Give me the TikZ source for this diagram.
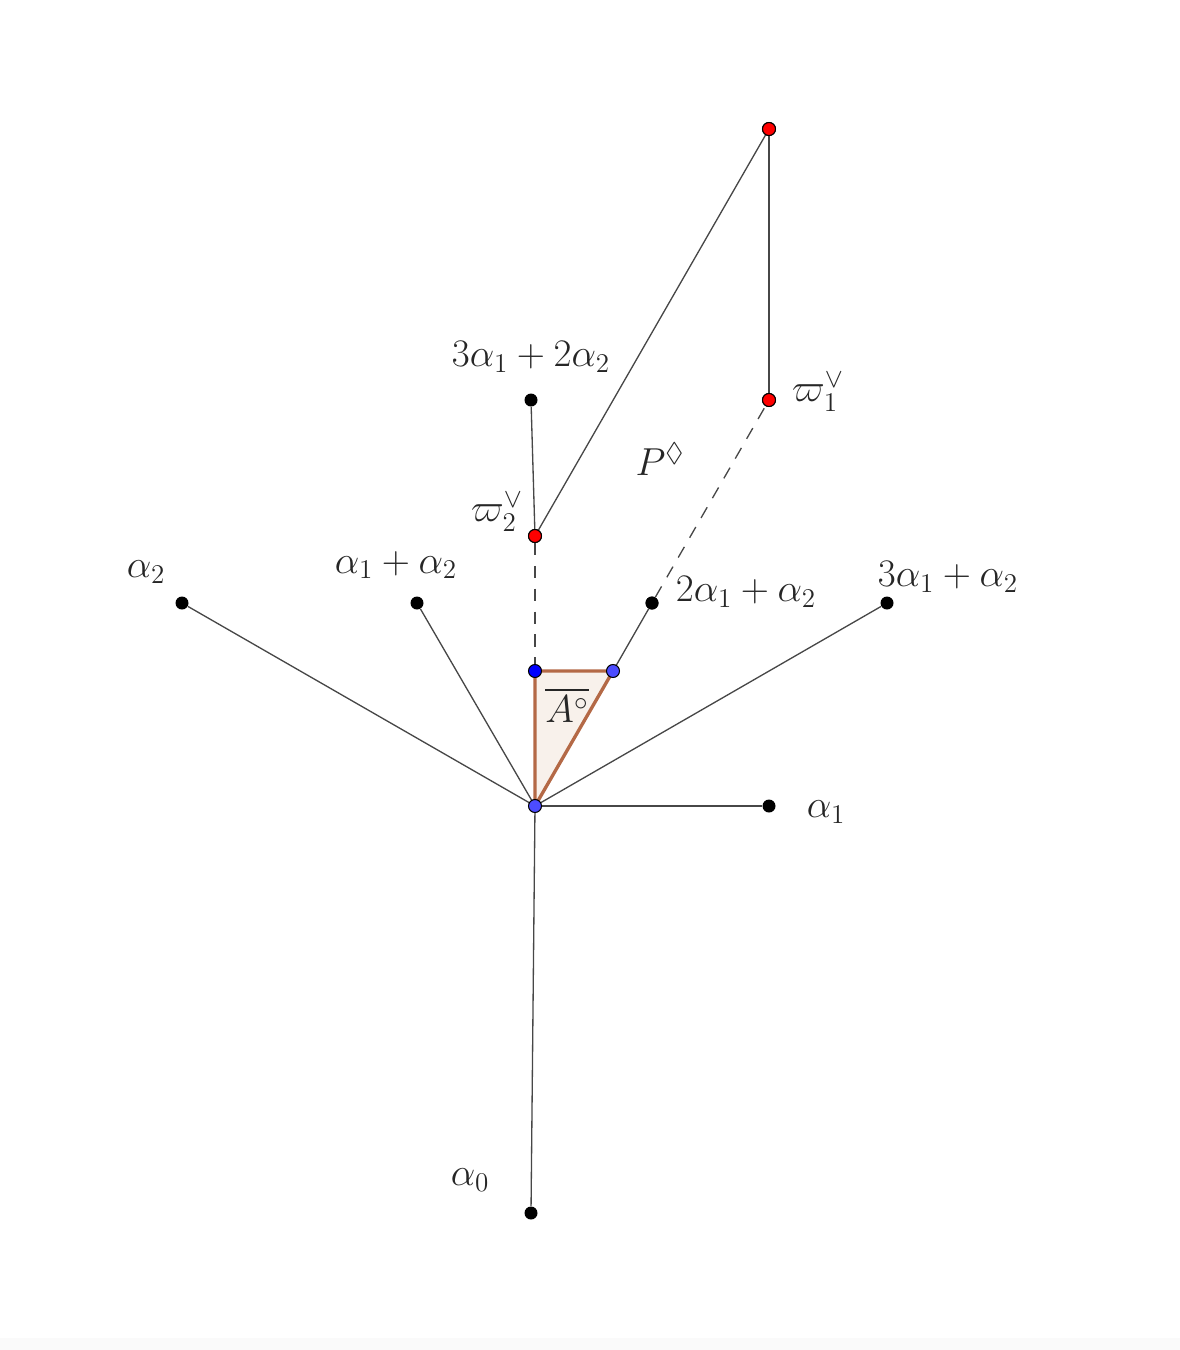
\documentclass[tikz,border=0pt]{standalone}
\usepackage{amssymb}
\newcommand{\biglab}[1]{\scalebox{1.07}{#1}}
\begin{document}
\begin{tikzpicture}[x=0.02cm,y=-0.02cm,
  edge/.style={draw=black!72,line width=0.75pt},
  dashedge/.style={draw=black!72,line width=0.75pt,dash pattern=on 7pt off 6pt},
  bdot/.style={circle,fill=black,inner sep=0pt,minimum size=0.26cm},
  rdot/.style={circle,fill=red,draw=black,line width=0.6pt,inner sep=0pt,minimum size=0.26cm},
  ldot/.style={circle,fill=blue!70!white,draw=black,line width=0.6pt,inner sep=0pt,minimum size=0.26cm},
  dbdot/.style={circle,fill=blue,draw=black,line width=0.6pt,inner sep=0pt,minimum size=0.26cm},
  lab/.style={font=\fontsize{20.74}{25}\selectfont,text=black!85,inner sep=0pt}]
\useasboundingbox (0,0) rectangle (1180,1350);
\fill[black!2] (0,1338) rectangle (1180,1350);
% coordinates
\coordinate (O) at (535,806);
\coordinate (B1) at (535,671);
\coordinate (B2) at (613,671);
% triangle
\filldraw[fill=brown!18!white,fill opacity=0.6,draw=none] (O) -- (B1) -- (B2) -- cycle;
% connectors
\node[bdot] (a1) at (769,806) {};
\node[bdot] (a2) at (182,603) {};
\node[bdot] (a12) at (417,603) {};
\node[bdot] (a21) at (652,603) {};
\node[bdot] (a31) at (887,603) {};
\node[bdot] (a32) at (531,400) {};
\node[bdot] (a0) at (531,1213) {};
\node[rdot] (w2) at (535,536) {};
\node[rdot] (w1) at (769,400) {};
\node[rdot] (top) at (769,129) {};
\path[edge] (O) -- (a1);
\path[edge] (O) -- (a2);
\path[edge] (O) -- (a12);
\path[edge] (O) -- (a31);
\path[edge] (O) -- (a0);
\path[edge] (a32) -- (w2);
\path[edge] (w2) -- (top);
\path[edge] (top) -- (w1);
\path[edge] (B2) -- (a21);
\path[dashedge] (a21) -- (w1);
\path[dashedge] (w2) -- (B1);
\draw[draw={rgb,255:red,180;green,105;blue,70},line width=1.9pt,line join=round] (O) -- (B1) -- (B2) -- cycle;
\node[ldot] (o) at (O) {};
\node[dbdot] (b1) at (B1) {};
\node[ldot] (b2) at (B2) {};
% redraw dots on top
\node[bdot] at (a21) {};
\node[rdot] at (w2) {};
\node[rdot] at (w1) {};
\node[rdot] at (top) {};
% labels
\node[lab] (l32) at (531,357) {\biglab{$3\alpha_1+2\alpha_2$}};
\node[lab] (lw2) at (497,512) {\biglab{$\varpi_2^\vee$}};
\node[lab] (l12) at (396,565) {\biglab{$\alpha_1+\alpha_2$}};
\node[lab] (l2) at (146,572) {\biglab{$\alpha_2$}};
\node[lab] (l21) at (746,592) {\biglab{$2\alpha_1+\alpha_2$}};
\node[lab] (l31) at (948,577) {\biglab{$3\alpha_1+\alpha_2$}};
\node[lab] (lw1) at (818,392) {\biglab{$\varpi_1^\vee$}};
\node[lab] (lP) at (660,459) {\biglab{$P^\Diamond$}};
\node[lab] (lA) at (567,705) {\biglab{$\overline{A^\circ}$}};
\node[lab] (l1) at (826,812) {\biglab{$\alpha_1$}};
\node[lab] (l0) at (470,1180) {\biglab{$\alpha_0$}};
\end{tikzpicture}
\end{document}
